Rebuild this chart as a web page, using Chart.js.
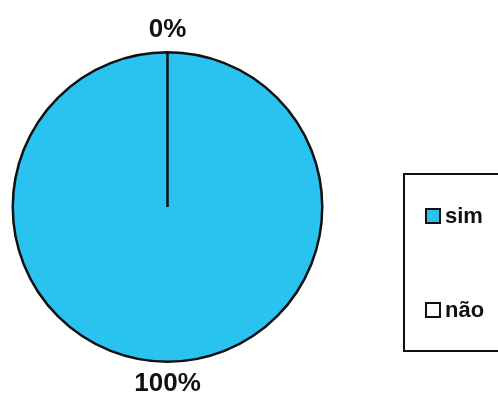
<!DOCTYPE html>
<html>
<head>
<meta charset="utf-8">
<script src="https://cdn.jsdelivr.net/npm/chart.js@4/dist/chart.umd.min.js"></script>
<style>
html,body{margin:0;padding:0;background:#fff;}
#wrap{width:498px;height:405px;position:relative;}
</style>
</head>
<body>
<div id="wrap"><canvas id="c" width="498" height="405"></canvas></div>
<script>
const categories = ["sim", "não"];
const values = [100, 0];
const percentLabels = ["100%", "0%"];
const colors = ["#2ac2ee", "#ffffff"];

const labelPlugin = {
  id: 'outLabels',
  afterDatasetsDraw(chart) {
    const ctx = chart.ctx;
    const meta = chart.getDatasetMeta(0);
    ctx.save();
    ctx.fillStyle = '#111';
    ctx.font = 'bold 26px "Liberation Sans", Arial, sans-serif';
    ctx.textAlign = 'center';
    ctx.textBaseline = 'middle';
    meta.data.forEach((arc, i) => {
      const p = arc.getProps(['x','y','startAngle','endAngle','outerRadius'], true);
      const mid = (p.startAngle + p.endAngle) / 2;
      const r = p.outerRadius + 22;
      ctx.fillText(percentLabels[i], p.x + Math.cos(mid) * r, p.y + Math.sin(mid) * r);
    });
    ctx.restore();
  }
};

const legendPlugin = {
  id: 'boxLegend',
  afterDraw(chart) {
    const ctx = chart.ctx;
    ctx.save();
    ctx.strokeStyle = '#111';
    ctx.lineWidth = 2;
    ctx.strokeRect(404, 174, 110, 177);
    const ys = [216, 310];
    ctx.font = 'bold 22px "Liberation Sans", Arial, sans-serif';
    ctx.textBaseline = 'middle';
    ctx.textAlign = 'left';
    categories.forEach((c, i) => {
      ctx.fillStyle = colors[i];
      ctx.fillRect(426, ys[i] - 7, 14, 14);
      ctx.lineWidth = 2;
      ctx.strokeStyle = '#111';
      ctx.strokeRect(426, ys[i] - 7, 14, 14);
      ctx.fillStyle = '#111';
      ctx.fillText(c, 445, ys[i] + 1);
    });
    ctx.restore();
  }
};

new Chart(document.getElementById('c'), {
  type: 'pie',
  data: {
    labels: categories,
    datasets: [{
      data: values,
      backgroundColor: colors,
      borderColor: '#111',
      borderWidth: 2.5
    }]
  },
  options: {
    responsive: false,
    animation: false,
    layout: { padding: { left: 10, top: 51, right: 173, bottom: 42 } },
    plugins: {
      legend: { display: false },
      tooltip: { enabled: false }
    }
  },
  plugins: [labelPlugin, legendPlugin]
});
</script>
</body>
</html>
